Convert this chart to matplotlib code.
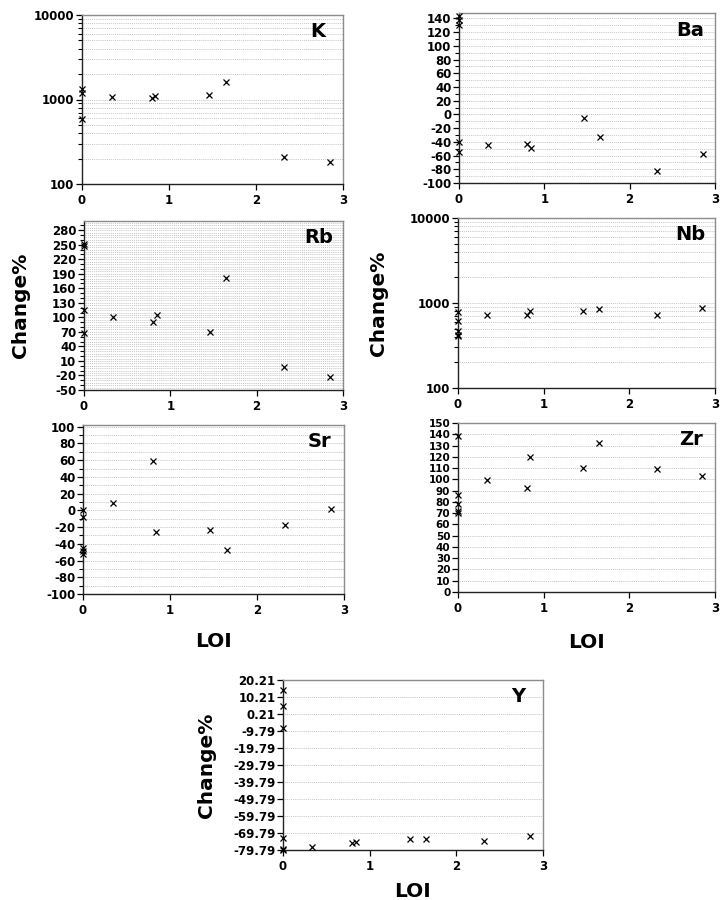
import numpy as np
import matplotlib
matplotlib.use("Agg")
import matplotlib.pyplot as plt
from matplotlib.ticker import FixedLocator, MultipleLocator, NullFormatter, LogLocator

plt.rcParams['font.family'] = ['DejaVu Sans']
plt.rcParams['font.weight'] = 'bold'
plt.rcParams['axes.unicode_minus'] = False

# LOI values (x) for each element panel
k_loi = [0, 0, 0, 0.34, 0.80, 0.84, 1.46, 1.65, 2.32, 2.85]
k_val = [1320, 1200, 580, 1060, 1050, 1100, 1120, 1600, 206, 181]

ba_loi = [0, 0, 0, 0, 0, 0.34, 0.80, 0.84, 1.46, 1.65, 2.32, 2.86]
ba_val = [143, 138, 131, -40, -55, -44, -43, -49, -5, -33, -82, -58]

rb_loi = [0, 0, 0, 0, 0.34, 0.80, 0.84, 1.46, 1.65, 2.32, 2.85]
rb_val = [252, 247, 115, 67, 101, 91, 105, 70, 182, -2, -23]

nb_loi = [0, 0, 0, 0, 0, 0.34, 0.80, 0.84, 1.46, 1.65, 2.32, 2.85]
nb_val = [780, 610, 470, 420, 405, 728, 728, 797, 797, 841, 714, 881]

sr_loi = [0, 0, 0, 0, 0, 0.34, 0.80, 0.84, 1.46, 1.65, 2.32, 2.85]
sr_val = [1, -8, -45, -49, -52, 9, 59, -26, -24, -47, -17, 2]

zr_loi = [0, 0, 0, 0, 0, 0.34, 0.80, 0.84, 1.46, 1.65, 2.32, 2.85]
zr_val = [138.5, 86, 78.5, 71.5, 70, 99, 92, 119.5, 110, 132.5, 109.5, 103]

y_loi = [0, 0, 0, 0, 0, 0, 0.34, 0.80, 0.84, 1.46, 1.65, 2.32, 2.85]
y_val = [14.1, 4.9, -8.2, -72.9, -79.2, -79.8, -78.2, -75.5, -74.9, -73.3, -73.3, -74.6, -71.4]

y_ticks = [20.21, 10.21, 0.21, -9.79, -19.79, -29.79, -39.79, -49.79, -59.79, -69.79, -79.79]

W, H = 721, 900
fig = plt.figure(figsize=(7.21, 9.0), dpi=100)


def make_ax(l, t, r, b):
    return fig.add_axes([l / W, 1 - b / H, (r - l) / W, (b - t) / H])


def style(ax, label, ysize=8.5):
    ax.set_xlim(0, 3)
    ax.set_xticks([0, 1, 2, 3])
    for s in ['top', 'right']:
        ax.spines[s].set_color('#8c8c8c')
        ax.spines[s].set_linewidth(1.0)
    for s in ['left', 'bottom']:
        ax.spines[s].set_color('#222222')
        ax.spines[s].set_linewidth(1.0)
    ax.tick_params(axis='both', which='major', direction='out', length=4,
                   width=0.9, labelsize=8.5, pad=1.5)
    ax.tick_params(axis='y', which='major', labelsize=ysize)
    ax.tick_params(axis='y', which='minor', direction='out', length=3, width=0.8)
    ax.tick_params(axis='x', which='major', pad=3)
    ax.text(0.905, 0.90, label, transform=ax.transAxes, ha='center', va='center',
            fontsize=14, fontweight='bold')


def scatter(ax, x, y):
    ax.plot(x, y, linestyle='none', marker='x', color='black', markersize=5,
            markeredgewidth=0.9, clip_on=False, zorder=5)


def hgrid(ax, levels):
    for v in levels:
        ax.axhline(v, color='#a8a8a8', linestyle=(0, (1, 1.5)), linewidth=0.55, zorder=1)


def log_panel(ax):
    ax.set_yscale('log')
    ax.set_ylim(100, 10000)
    ax.yaxis.set_major_locator(FixedLocator([100, 1000, 10000]))
    ax.yaxis.set_minor_locator(LogLocator(base=10, subs=np.arange(2, 10)))
    ax.yaxis.set_minor_formatter(NullFormatter())
    ax.set_yticklabels(['100', '1000', '10000'])
    lv = [m * 10 ** e for e in (2, 3) for m in range(2, 10)] + [1000]
    hgrid(ax, lv)


# K
ax = make_ax(82, 15, 343, 184)
log_panel(ax)
scatter(ax, k_loi, k_val)
style(ax, 'K')

# Ba
ax = make_ax(459, 13, 715, 183)
ax.set_ylim(-100, 148)
ax.yaxis.set_major_locator(MultipleLocator(20))
ax.yaxis.set_minor_locator(MultipleLocator(10))
hgrid(ax, np.arange(-90, 148, 10))
scatter(ax, ba_loi, ba_val)
style(ax, 'Ba')

# Rb
ax = make_ax(84, 221, 343, 390)
ax.set_ylim(-50, 299)
ax.yaxis.set_major_locator(FixedLocator(np.arange(-50, 281, 30)))
ax.yaxis.set_minor_locator(FixedLocator(np.arange(-50, 299, 10)))
hgrid(ax, np.arange(-45, 299, 5))
scatter(ax, rb_loi, rb_val)
style(ax, 'Rb')
ax.set_ylabel('Change%', fontsize=14.5, fontweight='bold', labelpad=16)

# Nb
ax = make_ax(458, 218, 715, 388)
log_panel(ax)
scatter(ax, nb_loi, nb_val)
style(ax, 'Nb')
ax.set_ylabel('Change%', fontsize=14.5, fontweight='bold', labelpad=16)

# Sr
ax = make_ax(83, 425, 344, 594)
ax.set_ylim(-100, 102)
ax.yaxis.set_major_locator(MultipleLocator(20))
ax.yaxis.set_minor_locator(MultipleLocator(10))
hgrid(ax, np.arange(-90, 101, 10))
scatter(ax, sr_loi, sr_val)
style(ax, 'Sr')
ax.set_xlabel('LOI', fontsize=14.5, fontweight='bold', labelpad=11)

# Zr
ax = make_ax(458, 423, 715, 592)
ax.set_ylim(0, 150)
ax.yaxis.set_major_locator(MultipleLocator(10))
hgrid(ax, np.arange(10, 150, 10))
scatter(ax, zr_loi, zr_val)
style(ax, 'Zr', ysize=7.5)
ax.set_xlabel('LOI', fontsize=14.5, fontweight='bold', labelpad=13)

# Y
ax = make_ax(283, 680, 543, 850)
ax.set_ylim(-79.79, 20.21)
ax.yaxis.set_major_locator(FixedLocator(y_ticks))
ax.set_yticklabels(['%.2f' % v for v in y_ticks])
hgrid(ax, y_ticks[1:-1])
scatter(ax, y_loi, y_val)
style(ax, 'Y')
ax.set_ylabel('Change%', fontsize=14.5, fontweight='bold', labelpad=12)
ax.set_xlabel('LOI', fontsize=14.5, fontweight='bold', labelpad=7)

fig.savefig('out.png', dpi=100, facecolor='white')
